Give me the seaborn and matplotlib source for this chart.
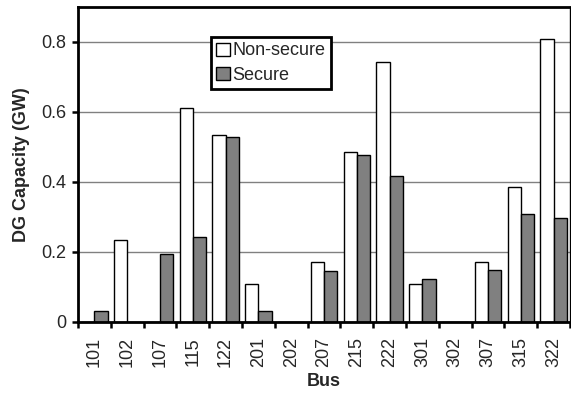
import numpy as np
import pandas as pd
import seaborn as sns
import matplotlib
matplotlib.use("Agg")
import matplotlib.pyplot as plt

# Values (GW)
buses = ["101", "102", "107", "115", "122", "201", "202", "207",
         "215", "222", "301", "302", "307", "315", "322"]
non_secure = [0.0, 0.234, 0.0, 0.612, 0.534, 0.109, 0.0, 0.171,
              0.487, 0.744, 0.108, 0.0, 0.171, 0.385, 0.808]
secure = [0.032, 0.0, 0.194, 0.244, 0.529, 0.031, 0.0, 0.146,
          0.476, 0.417, 0.122, 0.0, 0.149, 0.308, 0.297]
yticks = [0, 0.2, 0.4, 0.6, 0.8]
ytick_labels = ["0", "0.2", "0.4", "0.6", "0.8"]

df = pd.DataFrame({"Bus": buses, "Non-secure": non_secure, "Secure": secure})
df_long = df.melt(id_vars="Bus", var_name="Case", value_name="Capacity")

sns.set_style("white")
plt.rcParams["font.family"] = ["Liberation Sans", "DejaVu Sans"]
fs = 13

fig = plt.figure(figsize=(5.71, 3.95), dpi=100)
ax = fig.add_axes([78 / 571, 1 - 322 / 395, 492 / 571, 315 / 395])

sns.barplot(data=df_long, x="Bus", y="Capacity", hue="Case",
            palette={"Non-secure": "white", "Secure": "#808080"},
            edgecolor="black", linewidth=1.0, width=0.8, ax=ax,
            saturation=1)

ax.set_ylim(0, 0.9)
ax.set_xlim(-0.5, len(buses) - 0.5)
ax.set_yticks(yticks)
ax.set_yticklabels(ytick_labels, fontsize=fs)
ax.yaxis.grid(True, color="#808080", linewidth=1.0)
ax.set_axisbelow(True)

# Excel-style ticks: marks on category boundaries, labels centred
ax.set_xticks(range(len(buses)))
ax.set_xticklabels(buses, rotation=90, fontsize=fs)
ax.set_xticks(np.arange(-0.5, len(buses), 1), minor=True)
ax.tick_params(axis="x", which="major", length=0, pad=11)
ax.tick_params(axis="x", which="minor", length=4.5, width=1.8,
               direction="out", color="black", bottom=True)
ax.tick_params(axis="y", length=4.5, width=1.8, direction="out",
               color="black", left=True, pad=4)

for s in ax.spines.values():
    s.set_visible(True)
    s.set_color("black")
    s.set_linewidth(2.0)
ax.spines["right"].set_linewidth(1.0)

ax.set_xlabel("Bus", fontsize=fs, fontweight="bold", labelpad=4)
ax.set_ylabel("DG Capacity (GW)", fontsize=fs, fontweight="bold", labelpad=8)

leg = ax.legend(loc="upper left", bbox_to_anchor=((211 - 78) / 492, 1 - (37 - 7) / 315),
                fontsize=fs, frameon=True, fancybox=False, handlelength=0.75,
                handleheight=0.75, handletextpad=0.15, borderpad=0.3,
                labelspacing=0.4, borderaxespad=0)
leg.get_frame().set_edgecolor("black")
leg.get_frame().set_linewidth(2.0)
leg.get_frame().set_alpha(1)

fig.savefig("out.png", dpi=100)
